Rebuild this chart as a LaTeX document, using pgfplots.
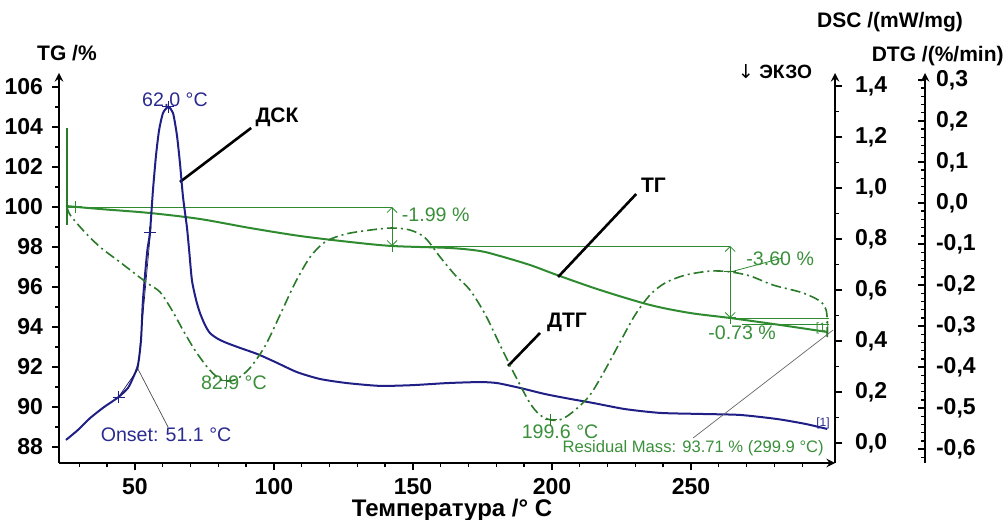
\documentclass[border=0pt]{standalone}
\usepackage{pgfplots}
\pgfplotsset{compat=1.18}
\usepackage{pgfplotstable}
\usepackage{fontspec}
\setmainfont{Liberation Sans}
\newfontfamily\dejavu{DejaVu Sans}
\usetikzlibrary{arrows.meta}

\definecolor{dscblue}{HTML}{1F1F85}
\definecolor{bluetxt}{HTML}{2A2A90}
\definecolor{tggreen}{HTML}{2E8B30}
\definecolor{dtggreen}{HTML}{2A7A2A}
\definecolor{txtgreen}{HTML}{3A8F3A}

\pgfplotstableread{
T dsc
25.2 0.012
29.5 0.051
33.9 0.098
38.9 0.141
44.1 0.180
47.5 0.216
49.3 0.255
51.1 0.306
52.2 0.404
52.9 0.561
54.4 0.749
55.4 0.824
56.5 0.992
57.6 1.129
58.7 1.227
60.1 1.294
62.0 1.318
63.7 1.294
65.1 1.208
66.2 1.098
67.3 0.965
68.7 0.847
69.5 0.757
70.5 0.639
72.0 0.561
73.4 0.510
75.2 0.463
77.0 0.431
79.9 0.408
83.1 0.392
87.8 0.373
94.0 0.349
100.4 0.318
108.3 0.278
116.6 0.251
126.3 0.235
138.2 0.224
150.0 0.227
162.3 0.235
174.1 0.239
180.3 0.235
188.5 0.216
197.5 0.192
206.5 0.173
214.8 0.157
226.3 0.133
238.9 0.118
253.3 0.114
267.7 0.110
281.0 0.094
291.1 0.075
299.0 0.055
}\dscdata

\pgfplotstableread{
T tg
25.2 100.05
37.4 99.90
55.4 99.70
73.4 99.40
91.4 98.95
109.4 98.55
127.4 98.25
142.5 98.05
163.3 97.95
174.1 97.80
181.3 97.55
192.1 97.10
201.8 96.60
217.3 95.85
235.3 95.10
249.7 94.70
264.1 94.45
282.1 94.10
299.0 93.75
}\tgdata

\pgfplotstableread{
T dtg
25.6 -0.010
26.7 -0.029
31.3 -0.066
37.4 -0.107
44.6 -0.144
54.4 -0.195
59.0 -0.217
63.3 -0.261
67.3 -0.310
71.6 -0.359
76.0 -0.400
79.5 -0.424
82.9 -0.434
86.7 -0.429
91.4 -0.402
96.8 -0.349
102.2 -0.273
107.6 -0.195
113.0 -0.132
118.4 -0.095
125.6 -0.076
134.6 -0.066
142.5 -0.061
149.0 -0.066
154.4 -0.085
159.8 -0.132
165.2 -0.176
170.5 -0.212
176.1 -0.273
181.3 -0.346
186.7 -0.420
192.1 -0.488
195.7 -0.517
199.6 -0.529
203.6 -0.527
208.3 -0.505
213.7 -0.468
219.1 -0.407
224.5 -0.339
229.9 -0.273
235.3 -0.224
240.7 -0.195
247.9 -0.176
256.9 -0.166
264.1 -0.168
271.3 -0.178
279.5 -0.200
289.2 -0.217
294.6 -0.232
297.2 -0.244
298.6 -0.261
299.0 -0.285
299.0 -0.327
}\dtgdata

\pgfplotsset{
  base/.style={
    scale only axis, width=388pt, height=195pt,
    at={(29.5pt,28pt)}, anchor=south west,
    xmin=22.7, xmax=301.8,
    axis line style={line width=0.9pt,-},
    tick style={line width=0.7pt, black},
    major tick length=3.5pt, minor tick length=2pt,
    tick label style={font=\fontsize{11.5}{13}\selectfont\bfseries},
    /pgf/number format/assume math mode=true,
  },
}
\tikzset{anno/.style={font=\fontsize{9.8}{11}\selectfont}}

\begin{document}
\begin{tikzpicture}
% ---------------- TG axis ----------------
\begin{axis}[base,
  axis x line=bottom, axis y line=left,
  ymin=87.2, ymax=106.7,
  ytick={88,90,92,94,96,98,100,102,104,106},
  minor ytick={87,89,91,93,95,97,99,101,103,105},
  xtick={50,100,150,200,250},
  minor xtick={30,40,60,70,80,90,110,120,130,140,160,170,180,190,210,220,230,240,260,270,280,290},
  tick align=outside,
  yticklabel style={xshift=-1pt},
  xticklabel style={inner sep=1pt, yshift=-3pt},
  clip=false,
]
\addplot[tggreen, line width=1pt, smooth] table[x=T,y=tg]{\tgdata};
% step lines
\addplot[tggreen, line width=0.4pt] coordinates {(25.5,100.0) (142.5,100.0)};
\addplot[tggreen, line width=0.4pt] coordinates {(142.5,98.05) (264.1,98.05)};
\addplot[tggreen, line width=0.4pt] coordinates {(264.1,94.45) (299.5,94.45)};
\addplot[tggreen, line width=0.4pt] coordinates {(268.5,94.12) (299.5,94.12)};
\addplot[tggreen, line width=0.4pt, {Straight Barb[length=2.5pt]}-{Straight Barb[length=2.5pt]}] coordinates {(142.5,100.0) (142.5,98.05)};
\addplot[tggreen, line width=0.4pt, {Straight Barb[length=2.5pt]}-{Straight Barb[length=2.5pt]}] coordinates {(264.1,98.05) (264.1,94.45)};
\addplot[tggreen, line width=0.4pt] coordinates {(264.1,96.75) (283,97.45)};
\addplot[only marks, mark=+, mark size=3pt, tggreen, line width=0.5pt] coordinates {(28.8,100.0) (142.5,98.05) (264.1,94.45)};
% labels
\node[anno, text=txtgreen, anchor=west] at (axis cs:143.5,99.6) {-1.99 \%};
\node[anno, text=txtgreen] at (axis cs:282.1,97.4) {-3.60 \%};
\node[anno, text=txtgreen] at (axis cs:268.4,93.7) {-0.73 \%};
\node[anno, text=txtgreen] at (axis cs:85.6,91.2) {82.9 °C};
\node[anno, text=txtgreen] at (axis cs:202.9,88.75) {199.6 °C};
\node[anno, text=bluetxt] at (axis cs:64.4,105.35) {62.0 °C};
\node[anno, text=bluetxt] at (axis cs:61.2,88.6) {Onset: 51.1 °C};
\node[font=\fontsize{6}{7}\selectfont, text=txtgreen] at (axis cs:297.3,93.95) {[1]};
% pointer lines
\draw[black, line width=1.3pt] (axis cs:66.2,101.25) -- (axis cs:91.8,103.95);
\node[font=\fontsize{10.5}{12}\selectfont\bfseries] at (axis cs:101.1,104.5) {ДСК};
\draw[black, line width=1.3pt] (axis cs:202.2,96.5) -- (axis cs:230.3,100.65);
\node[font=\fontsize{10.5}{12}\selectfont\bfseries] at (axis cs:236.5,101.1) {ТГ};
\draw[black, line width=1.3pt] (axis cs:184.2,92.05) -- (axis cs:195.7,93.7);
\node[font=\fontsize{10.5}{12}\selectfont\bfseries] at (axis cs:205.4,94.25) {ДТГ};
\end{axis}

% ---------------- DSC axis ----------------
\begin{axis}[base,
  axis x line=none, axis y line=right,
  ymin=-0.0784, ymax=1.451,
  ytick={0,0.2,0.4,0.6,0.8,1.0,1.2,1.4},
  yticklabels={{0,0},{0,2},{0,4},{0,6},{0,8},{1,0},{1,2},{1,4}},
  minor ytick={0.1,0.3,0.5,0.7,0.9,1.1,1.3},
  tick align=outside,
  yticklabel style={xshift=3pt},
  clip=false,
]
\addplot[dscblue, line width=1pt, smooth, tension=0.4] table[x=T,y=dsc]{\dscdata};
\addplot[dscblue!70!black, line width=0.35pt] coordinates {(51.1,0.29) (55.8,0.85)};
\addplot[dscblue!70!black, line width=0.35pt] coordinates {(44.1,0.18) (51.1,0.29)};
\addplot[black!70, line width=0.35pt] coordinates {(51.1,0.29) (61.9,0.063)};
\addplot[black!60, line width=0.35pt] coordinates {(250.8,0.02) (301.1,0.443)};
\addplot[only marks, mark=+, mark size=3pt, dscblue, line width=0.5pt] coordinates {(44.1,0.18) (55.4,0.824) (62.0,1.318)};
\node[font=\fontsize{8.3}{10}\selectfont, text=txtgreen] at (axis cs:250.8,-0.020) {Residual Mass: 93.71 \% (299.9 °C)};
\node[font=\fontsize{6}{7}\selectfont, text=bluetxt] at (axis cs:297.5,0.078) {[1]};
\end{axis}

% ---------------- DTG axis ----------------
\begin{axis}[base,
  axis x line=none, axis y line=right,
  axis y line shift=45pt,
  ymin=-0.634, ymax=0.317,
  ytick={-0.6,-0.5,-0.4,-0.3,-0.2,-0.1,0,0.1,0.2,0.3},
  yticklabels={{-0,6},{-0,5},{-0,4},{-0,3},{-0,2},{-0,1},{0,0},{0,1},{0,2},{0,3}},
  minor ytick={-0.62,-0.58,-0.56,-0.54,-0.52,-0.48,-0.46,-0.44,-0.42,-0.38,-0.36,-0.34,-0.32,-0.28,-0.26,-0.24,-0.22,-0.18,-0.16,-0.14,-0.12,-0.08,-0.06,-0.04,-0.02,0.02,0.04,0.06,0.08,0.12,0.14,0.16,0.18,0.22,0.24,0.26,0.28},
  tick align=inside,
  yticklabel style={xshift=2pt},
  clip=false,
]
\addplot[dtggreen, line width=0.9pt] coordinates {(25.5,0.183) (25.5,-0.054)};
\addplot[dtggreen, line width=0.8pt, smooth, dash pattern=on 5pt off 2pt on 1pt off 2pt] table[x=T,y=dtg]{\dtgdata};
\addplot[only marks, mark=+, mark size=3pt, dtggreen, line width=0.5pt] coordinates {(82.9,-0.434) (199.6,-0.529) (264.1,-0.168)};
\end{axis}

% titles
\node[font=\fontsize{10.5}{12}\selectfont\bfseries] at (33.5pt,233pt) {TG /\%};
\node[font=\fontsize{10.5}{12}\selectfont\bfseries] at (445pt,248.5pt) {DSC /(mW/mg)};
\node[font=\fontsize{10.5}{12}\selectfont\bfseries, anchor=east, inner sep=0pt] at (502pt,231.5pt) {DTG /(\%/min)};
\node[font=\fontsize{9.6}{11}\selectfont\bfseries] at (387.5pt,223.5pt) {{\dejavu\mdseries ↓} ЭКЗО};
\node[font=\fontsize{12}{14}\selectfont\bfseries, inner sep=0.5pt] at (226pt,4.2pt) {Температура /° C};

\pgfresetboundingbox
\path[use as bounding box] (0,0) rectangle (502.5pt,259.5pt);
\end{tikzpicture}
\end{document}
